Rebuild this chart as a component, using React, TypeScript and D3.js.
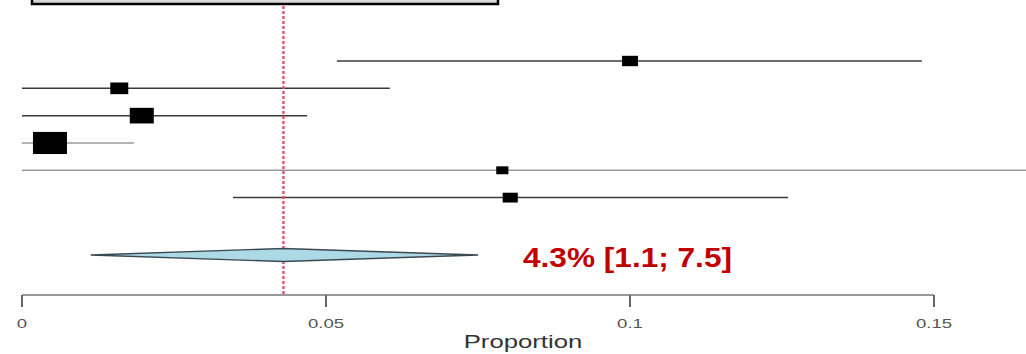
import React from "react";
import * as d3 from "d3";

const studies = ["Study 1", "Study 2", "Study 3", "Study 4", "Study 5", "Study 6"];
const estimates = [0.1, 0.016, 0.0197, 0.0046, 0.079, 0.0803];
const lowers = [0.0518, 0, 0, 0, 0, 0.0347];
const uppers = [0.148, 0.0605, 0.0469, 0.0184, 0.175, 0.126];
const weights = [9.5, 12, 21.5, 43, 5.5, 8.5];
const pooled = { est: 0.043, lower: 0.0113, upper: 0.075 };
const pooledLabel = "4.3% [1.1; 7.5]";
const ticks = [0, 0.05, 0.1, 0.15];
const tickLabels = ["0", "0.05", "0.1", "0.15"];
const axisTitle = "Proportion";

const W = 1026;
const H = 354;

export default function App() {
  const x = d3.scaleLinear().domain([0, 0.15]).range([22, 934]);
  const y = d3.scaleLinear().domain([0, 7.1]).range([61, 255]);
  const size = d3.scaleSqrt().domain([0, 43]).range([0, 34]);
  const axisY = 295;
  const sx = 1.43;
  const yd = y(7.1);

  const diamond = d3.line()([
    [x(pooled.lower), yd],
    [x(pooled.est), yd - 6.5],
    [x(pooled.upper), yd],
    [x(pooled.est), yd + 6.5],
  ]) + "Z";

  return (
    <svg width={W} height={H} style={{ position: "absolute", left: 0, top: 0, background: "#fff" }}>
      <defs>
        <clipPath id="plotclip">
          <rect x={0} y={0} width={W} height={H} />
        </clipPath>
      </defs>
      {/* title box */}
      <rect x={32} y={-30} width={466} height={34} fill="#d9d9d9" stroke="#000" strokeWidth={2.5} />

      {/* CI lines */}
      <g clipPath="url(#plotclip)">
        {studies.map((s, i) => {
          const light = i === 3 || i === 4;
          return (
            <line
              key={"l" + s}
              x1={x(lowers[i])}
              x2={Math.min(x(uppers[i]), W)}
              y1={y(i)}
              y2={y(i)}
              stroke={light ? "#9a9a9a" : "#3a3a3a"}
              strokeWidth={1.5}
            />
          );
        })}
      </g>

      {/* reference line */}
      <line
        x1={x(pooled.est)}
        x2={x(pooled.est)}
        y1={6}
        y2={axisY}
        stroke="#e5506f"
        strokeWidth={2.4}
        strokeDasharray="3,2"
      />

      {studies.map((s, i) => {
        const w = size(weights[i]);
        const h = w * 0.65;
        return (
          <rect key={"r" + s} x={x(estimates[i]) - w / 2} y={y(i) - h / 2} width={w} height={h} fill="#000" />
        );
      })}

      {/* pooled diamond */}
      <path d={diamond} fill="#add8e6" stroke="#3b4a52" strokeWidth={1.3} />

      <text
        x={523}
        y={267}
        fontFamily="Liberation Sans, Arial, sans-serif"
        fontWeight="bold"
        fontSize={28}
        fill="#c00000"
        textLength={209}
        lengthAdjust="spacingAndGlyphs"
      >
        {pooledLabel}
      </text>

      {/* axis */}
      <line x1={x(0)} x2={x(0.15)} y1={axisY} y2={axisY} stroke="#777" strokeWidth={1.5} />
      {ticks.map((t, i) => (
        <g key={"t" + t}>
          <line x1={x(t)} x2={x(t)} y1={axisY} y2={axisY + 12} stroke="#666" strokeWidth={2} />
          <text
            transform={`translate(${x(t)},328) scale(${sx},1)`}
            textAnchor="middle"
            fontFamily="Liberation Sans, Arial, sans-serif"
            fontSize={13}
            fill="#555"
          >
            {tickLabels[i]}
          </text>
        </g>
      ))}
      <text
        transform={`translate(${(x(0) + x(0.15)) / 2 + 45},348) scale(${sx},1)`}
        textAnchor="middle"
        fontFamily="Liberation Sans, Arial, sans-serif"
        fontSize={18}
        fill="#333"
      >
        {axisTitle}
      </text>
    </svg>
  );
}
